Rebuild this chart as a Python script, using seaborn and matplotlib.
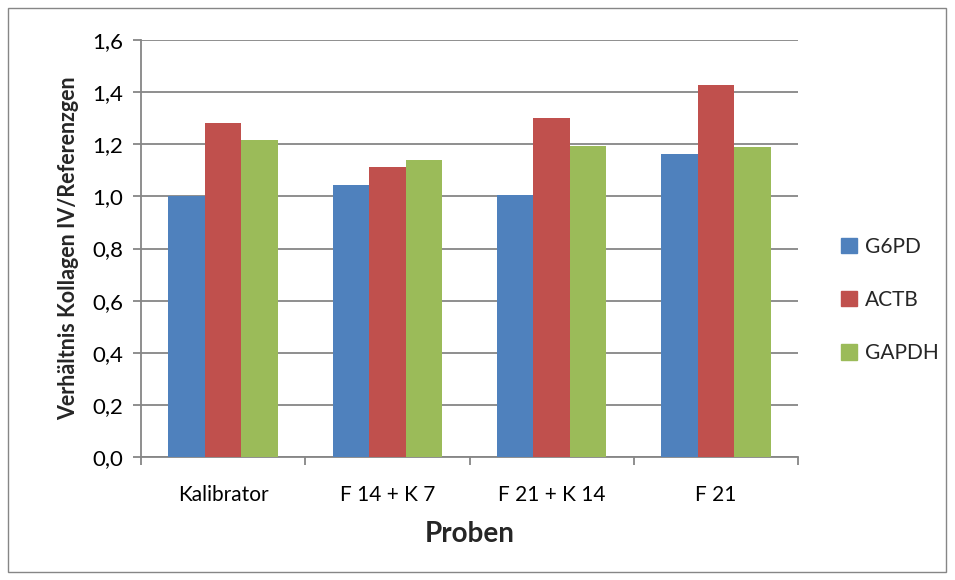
import matplotlib
matplotlib.use("Agg")
import matplotlib.pyplot as plt
from matplotlib.patches import Rectangle
from matplotlib.ticker import FixedLocator, FuncFormatter
import seaborn as sns
import pandas as pd

# Data: Kollagen IV relative to reference genes per sample
proben = ["Kalibrator", "F 14 + K 7", "F 21 + K 14", "F 21"]
g6pd = [1.000, 1.042, 1.005, 1.163]
actb = [1.282, 1.112, 1.300, 1.426]
gapdh = [1.215, 1.140, 1.192, 1.188]
gene = ["G6PD", "ACTB", "GAPDH"]
farben = ["#4F81BD", "#C0504D", "#9BBB59"]

df = pd.DataFrame({
    "Probe": proben * 3,
    "Gen": [g for g in gene for _ in proben],
    "Wert": g6pd + actb + gapdh,
})

sns.set_theme(style="white")
plt.rcParams["font.family"] = ["Lato", "DejaVu Sans"]

fig = plt.figure(figsize=(9.55, 5.8), dpi=100)
ax = fig.add_axes([141 / 955, 1 - 457 / 580, (798 - 141) / 955, (457 - 40) / 580])

sns.barplot(data=df, x="Probe", y="Wert", hue="Gen", order=proben,
            hue_order=gene, palette=farben, width=2 / 3, gap=0,
            saturation=1, ax=ax, legend=False, zorder=3)
for p in ax.patches:
    p.set_edgecolor("none")

ax.set_xlim(-0.5, 3.5)
ax.set_ylim(0, 1.6)
ax.set_yticks([0, 0.2, 0.4, 0.6, 0.8, 1.0, 1.2, 1.4, 1.6])
ax.yaxis.set_major_formatter(FuncFormatter(lambda v, _: f"{v:.1f}".replace(".", ",")))
ax.grid(axis="y", color="#868686", linewidth=1.3, zorder=0)
ax.set_axisbelow(True)

for s in ["top", "right"]:
    ax.spines[s].set_visible(False)
for s in ["left", "bottom"]:
    ax.spines[s].set_color("#868686")
    ax.spines[s].set_linewidth(1.3)

ax.tick_params(axis="y", which="major", left=True, length=6, width=1.3,
               color="#868686", labelsize=16, pad=7, labelcolor="black")
ax.tick_params(axis="x", which="major", length=0, labelsize=15, pad=20,
               labelcolor="black")
ax.xaxis.set_minor_locator(FixedLocator([-0.5, 0.5, 1.5, 2.5, 3.5]))
ax.tick_params(axis="x", which="minor", bottom=True, length=6, width=1.3,
               color="#868686")

ax.set_xlabel("Proben", fontsize=20, fontweight="bold", labelpad=12)
ax.set_ylabel("Verhältnis Kollagen IV/Referenzgen", fontsize=15.5,
              fontweight="bold", labelpad=9)

handles = [Rectangle((0, 0), 1, 1, color=c) for c in farben]
fig.legend(handles, gene, loc="center left", bbox_to_anchor=(841 / 955, 1 - 300 / 580),
           frameon=False, fontsize=15, handlelength=0.75, handleheight=0.75,
           handletextpad=0.4, labelspacing=1.6, borderaxespad=0, borderpad=0)

# outer chart frame
fig.patches.append(Rectangle((8 / 955, 8 / 580), 938 / 955, 564 / 580,
                             transform=fig.transFigure, fill=False,
                             edgecolor="#868686", linewidth=1.0))

fig.savefig("out.png", dpi=100)
